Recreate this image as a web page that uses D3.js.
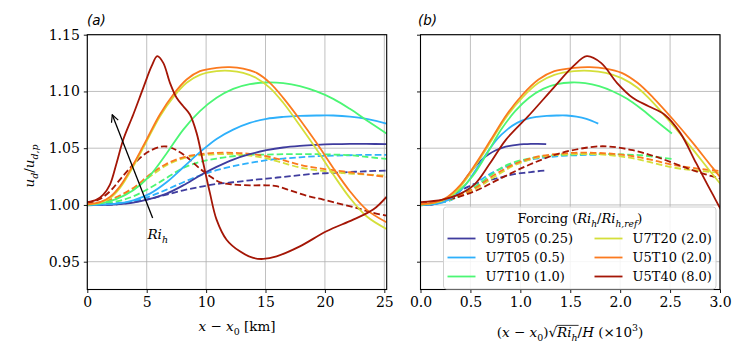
<!DOCTYPE html>
<html><head><meta charset="utf-8">
<script src="https://cdn.jsdelivr.net/npm/d3@7"></script>
<style>body{margin:0;background:#fff;}svg{display:block;}</style>
</head><body>
<svg id="chart" width="748" height="362"></svg>
<script>
// ---------------- DATA ----------------
const names = ["U9T05", "U7T05", "U7T10", "U7T20", "U5T10", "U5T40"];
const riRatio = [0.25, 0.5, 1.0, 2.0, 2.0, 8.0];
const legendLabels = ["U9T05 (0.25)", "U7T05 (0.5)", "U7T10 (1.0)", "U7T20 (2.0)", "U5T10 (2.0)", "U5T40 (8.0)"];
const colors = ["#3f3c9e", "#2eb0fb", "#4cf674", "#d4df3a", "#fb7a1f", "#a41606"];
const hScale = 0.1; // 1/H (x10^3) per km

// solid lines: [x - x0 (km), u_d/u_dp]
const U9T05_solid = [[0,1.000],[2.47,1.0006],[3.87,1.002],[5.27,1.0053],[6.67,1.010],[8.08,1.0173],[9.48,1.0259],[10.88,1.0335],[12.28,1.040],[13.68,1.0447],[15.09,1.0482],[16.49,1.0506],[17.89,1.052],[19.29,1.0529],[20.7,1.0535],[22.1,1.0538],[23.5,1.0538],[25.18,1.0535]];
const U7T05_solid = [[0,1.000],[2.47,1.0012],[3.87,1.0041],[5.27,1.010],[6.67,1.020],[8.08,1.0332],[9.48,1.0465],[10.88,1.0582],[12.28,1.0664],[13.68,1.0723],[15.09,1.0759],[16.49,1.0776],[17.89,1.0785],[19.29,1.0788],[20.7,1.0788],[22.1,1.0779],[23.5,1.0759],[25.18,1.0717]];
const U7T10_solid = [[0,1.000],[1.35,1.0018],[2.47,1.0053],[3.87,1.0129],[5.27,1.0259],[6.67,1.0453],[8.08,1.0664],[9.48,1.0826],[10.88,1.0944],[12.28,1.1023],[13.68,1.1064],[15.09,1.1079],[16.49,1.1073],[17.89,1.1047],[19.29,1.1000],[20.7,1.0935],[22.1,1.0847],[23.5,1.0747],[25.18,1.0629]];
const U7T20_solid = [[0,1.0003],[1.07,1.002],[1.91,1.006],[2.75,1.015],[3.87,1.034],[4.99,1.056],[6.11,1.078],[7.24,1.095],[8.36,1.1076],[9.48,1.1146],[10.88,1.1179],[12.0,1.1182],[13.12,1.1164],[14.25,1.1117],[15.37,1.1032],[16.49,1.090],[17.89,1.070],[19.29,1.049],[20.7,1.0268],[22.1,1.0062],[23.5,0.990],[25.18,0.9788]];
const U5T10_solid = [[0,1.0006],[1.07,1.0024],[1.91,1.0071],[2.75,1.0165],[3.87,1.0356],[4.99,1.0576],[6.11,1.0797],[7.24,1.0973],[8.36,1.1105],[9.48,1.1179],[10.88,1.1208],[12.0,1.1214],[13.12,1.1202],[14.25,1.1164],[15.37,1.1076],[16.49,1.0944],[17.89,1.0753],[19.29,1.0547],[20.7,1.0326],[22.1,1.0121],[23.5,0.9959],[25.18,0.9847]];
const U5T40_solid = [[0,1.0024],[0.785,1.0047],[1.346,1.0091],[1.907,1.0179],[2.468,1.0370],[3.029,1.0576],[3.87,1.0797],[4.711,1.1032],[5.412,1.1223],[5.889,1.1311],[6.394,1.1252],[6.955,1.1076],[7.516,1.0944],[8.076,1.0870],[8.637,1.0797],[9.198,1.0635],[9.759,1.0370],[10.32,1.0106],[10.88,0.9871],[11.72,0.9694],[12.84,0.9591],[13.97,0.9533],[14.81,0.9524],[15.93,0.9547],[17.89,0.9635],[20.13,0.9768],[22.38,0.9871],[24.06,0.9959],[25.18,1.0071]];

// dashed lines
const U9T05_dashed = [[0,0.9997],[2.47,1.0006],[3.87,1.0024],[5.27,1.0053],[6.67,1.0091],[8.08,1.0129],[9.48,1.0159],[10.88,1.0185],[12.28,1.020],[13.68,1.0217],[15.09,1.0232],[16.49,1.0247],[17.89,1.0262],[19.29,1.0276],[20.7,1.0282],[22.1,1.029],[23.5,1.0297],[25.18,1.0303]];
const U7T05_dashed = [[0,1.000],[3.87,1.0032],[5.27,1.0076],[6.67,1.0135],[8.08,1.020],[9.48,1.0259],[10.88,1.0306],[12.28,1.0341],[13.68,1.037],[15.09,1.0394],[16.49,1.0409],[17.89,1.042],[19.29,1.0429],[20.7,1.0435],[22.1,1.0438],[23.5,1.0441],[25.18,1.0441]];
const U7T10_dashed = [[0,1.000],[2.47,1.0032],[3.87,1.0076],[5.27,1.015],[6.67,1.0238],[8.08,1.0326],[9.48,1.0379],[10.88,1.0409],[12.28,1.0429],[13.68,1.0441],[15.09,1.0444],[16.49,1.0447],[17.89,1.0447],[19.29,1.0447],[20.7,1.0444],[22.1,1.0438],[23.5,1.0423],[25.18,1.0406]];
const U7T20_dashed = [[0,1.0003],[1.91,1.004],[3.87,1.014],[5.27,1.025],[6.67,1.035],[8.08,1.041],[9.48,1.0438],[10.88,1.0447],[12.28,1.0447],[13.68,1.0435],[15.09,1.041],[16.49,1.037],[17.89,1.033],[19.29,1.0306],[20.7,1.029],[22.1,1.0276],[23.5,1.0268],[25.18,1.0259]];
const U5T10_dashed = [[0,1.0003],[1.91,1.0047],[3.87,1.015],[5.27,1.0268],[6.67,1.0362],[8.08,1.042],[9.48,1.0447],[10.88,1.0459],[12.28,1.0459],[13.68,1.045],[15.09,1.0429],[16.49,1.0394],[17.89,1.0353],[19.29,1.0326],[20.7,1.0306],[22.1,1.0288],[23.5,1.0268],[25.18,1.0247]];
const U5T40_dashed = [[0,1.0012],[1.07,1.0053],[1.91,1.012],[2.75,1.0223],[3.87,1.0356],[4.99,1.0459],[6.11,1.0512],[6.67,1.0515],[7.52,1.0482],[8.36,1.0423],[9.48,1.032],[10.32,1.0253],[11.16,1.020],[12.28,1.018],[13.68,1.0173],[15.09,1.0173],[15.93,1.0165],[17.05,1.0129],[18.45,1.0082],[19.85,1.0047],[21.54,1.0003],[22.94,0.9965],[24.06,0.993],[25.18,0.9906]];

const solids = [U9T05_solid, U7T05_solid, U7T10_solid, U7T20_solid, U5T10_solid, U5T40_solid];
const dashes = [U9T05_dashed, U7T05_dashed, U7T10_dashed, U7T20_dashed, U5T10_dashed, U5T40_dashed];

const yTicks = [0.95, 1.00, 1.05, 1.10, 1.15];
const xTicksA = [0, 5, 10, 15, 20, 25];
const xTicksB = [0.0, 0.5, 1.0, 1.5, 2.0, 2.5, 3.0];

// ---------------- LAYOUT ----------------
const svg = d3.select("#chart");
const SERIF = "'DejaVu Serif', serif";
const FS = 14;
const plotTop = 34.7, plotBottom = 289.5;
const y = d3.scaleLinear().domain([0.9255, 1.15]).range([plotBottom, plotTop]);
const xA = d3.scaleLinear().domain([0, 25.2]).range([87.3, 386.7]);
const xB = d3.scaleLinear().domain([0, 3.0]).range([420.5, 720]);

function rich(text, parts, fs) {
  let cur = 0;
  parts.forEach(p => {
    const ts = text.append("tspan").text(p.t);
    if (p.i) ts.attr("font-style", "italic");
    const shift = p.sub ? fs * 0.3 : (p.sup ? -fs * 0.42 : 0);
    const dy = shift - cur; cur = shift;
    if (dy) ts.attr("dy", dy);
    if (p.sub || p.sup) ts.attr("font-size", fs * 0.7);
  });
}

function panel(id, x, xTicks, fmt, showYLabels, xform) {
  const g = svg.append("g");
  const [x0, x1] = x.range();
  g.append("g").selectAll("line").data(xTicks).join("line")
    .attr("x1", d => x(d)).attr("x2", d => x(d)).attr("y1", plotTop).attr("y2", plotBottom)
    .attr("stroke", "#b0b0b0").attr("stroke-width", 0.8);
  g.append("g").selectAll("line").data(yTicks).join("line")
    .attr("x1", x0).attr("x2", x1).attr("y1", d => y(d)).attr("y2", d => y(d))
    .attr("stroke", "#b0b0b0").attr("stroke-width", 0.8);
  svg.append("clipPath").attr("id", "clip" + id).append("rect")
    .attr("x", x0).attr("y", plotTop).attr("width", x1 - x0).attr("height", plotBottom - plotTop);
  const lines = g.append("g").attr("clip-path", `url(#clip${id})`);
  const line = d3.line().x(d => x(d[0])).y(d => y(d[1])).curve(d3.curveCatmullRom.alpha(0.5));
  const drawSet = (set, dashed) => set.forEach((s, i) => {
    const pts = s.map(d => [xform(d[0], i), d[1]]);
    lines.append("path").attr("d", line(pts)).attr("fill", "none")
      .attr("stroke", colors[i]).attr("stroke-width", 1.8)
      .attr("stroke-dasharray", dashed ? "6.5,3" : null);
  });
  drawSet(dashes, true);
  drawSet(solids, false);
  const ax = g.append("g").attr("transform", `translate(0,${plotBottom})`)
    .call(d3.axisBottom(x).tickValues(xTicks).tickFormat(fmt).tickSize(3.5).tickPadding(4));
  const ay = g.append("g").attr("transform", `translate(${x0},0)`)
    .call(d3.axisLeft(y).tickValues(yTicks).tickFormat(showYLabels ? d3.format(".2f") : "").tickSize(3.5).tickPadding(4));
  [ax, ay].forEach(a => {
    a.select(".domain").remove();
    a.selectAll("text").attr("font-family", SERIF).attr("font-size", FS).attr("fill", "#000");
    a.selectAll("line").attr("stroke", "#000").attr("stroke-width", 0.9);
  });
  g.append("rect").attr("x", x0).attr("y", plotTop).attr("width", x1 - x0).attr("height", plotBottom - plotTop)
    .attr("fill", "none").attr("stroke", "#000").attr("stroke-width", 1.1);
  return g;
}

panel("a", xA, xTicksA, d3.format("d"), true, (v) => v);
panel("b", xB, xTicksB, d3.format(".1f"), false, (v, i) => v * hScale * Math.sqrt(riRatio[i]));

// panel labels
svg.append("text").attr("x", 87).attr("y", 25).attr("font-family", "'DejaVu Sans', sans-serif")
  .attr("font-style", "italic").attr("font-size", 13.5).text("(a)");
svg.append("text").attr("x", 418).attr("y", 25).attr("font-family", "'DejaVu Sans', sans-serif")
  .attr("font-style", "italic").attr("font-size", 13.5).text("(b)");

// x label a
const tA = svg.append("text").attr("x", 237).attr("y", 331).attr("text-anchor", "middle")
  .attr("font-family", SERIF).attr("font-size", 13.5);
rich(tA, [{t: "x", i: true}, {t: " − "}, {t: "x", i: true}, {t: "0", sub: true}, {t: " [km]"}], 13.5);

// y label
const tY = svg.append("text").attr("transform", "translate(34,166) rotate(-90)").attr("text-anchor", "middle")
  .attr("font-family", SERIF).attr("font-size", 13.5);
rich(tY, [{t: "u", i: true}, {t: "d", i: true, sub: true}, {t: "/"}, {t: "u", i: true}, {t: "d,p", i: true, sub: true}], 13.5);

// x label b
const fsB = 13.5;
const tB = svg.append("text").attr("x", 570).attr("y", 337).attr("text-anchor", "middle")
  .attr("font-family", SERIF).attr("font-size", fsB);
rich(tB, [{t: "("}, {t: "x", i: true}, {t: " − "}, {t: "x", i: true}, {t: "0", sub: true}, {t: ")"}, {t: "√"},
          {t: "Ri", i: true}, {t: "h", i: true, sub: true}, {t: "/"}, {t: "H", i: true}, {t: " (×10"}, {t: "3", sup: true}, {t: ")"}], fsB);
{
  const node = tB.node();
  const full = node.textContent;
  const iSq = full.indexOf("√");
  const iEnd = iSq + 3;
  const s = node.getEndPositionOfChar(iSq).x;
  const e = node.getEndPositionOfChar(iEnd).x;
  svg.append("line").attr("x1", s - 0.5).attr("x2", e + 1).attr("y1", 337 - fsB * 0.86).attr("y2", 337 - fsB * 0.86)
    .attr("stroke", "#000").attr("stroke-width", 0.8);
}

// arrow
svg.append("defs").append("marker").attr("id", "ah").attr("viewBox", "0 0 10 10").attr("refX", 9).attr("refY", 5)
  .attr("markerWidth", 9).attr("markerHeight", 9).attr("orient", "auto").attr("markerUnits", "userSpaceOnUse")
  .append("path").attr("d", "M1,1 L9,5 L1,9").attr("fill", "none").attr("stroke", "#000").attr("stroke-width", 1.3);
svg.append("line").attr("x1", xA(5.5)).attr("y1", y(0.9885)).attr("x2", xA(2.1)).attr("y2", y(1.0795))
  .attr("stroke", "#000").attr("stroke-width", 1.3).attr("marker-end", "url(#ah)");
const tR = svg.append("text").attr("x", xA(5.06)).attr("y", 239).attr("font-family", SERIF).attr("font-size", 13.5);
rich(tR, [{t: "Ri", i: true}, {t: "h", i: true, sub: true}], 13.5);

// legend
const lg = svg.append("g");
lg.append("rect").attr("x", 443.5).attr("y", 207).attr("width", 272.5).attr("height", 82).attr("rx", 3)
  .attr("fill", "#fff").attr("fill-opacity", 0.85).attr("stroke", "#d0d0d0").attr("stroke-width", 1);
const tL = lg.append("text").attr("x", 580).attr("y", 223).attr("text-anchor", "middle")
  .attr("font-family", SERIF).attr("font-size", 13);
rich(tL, [{t: "Forcing ("}, {t: "Ri", i: true}, {t: "h", i: true, sub: true}, {t: "/"}, {t: "Ri", i: true}, {t: "h,ref", i: true, sub: true}, {t: ")"}], 13);
legendLabels.forEach((lab, i) => {
  const col = Math.floor(i / 3), row = i % 3;
  const lx = col === 0 ? 447.5 : 594.5;
  const ly = 238.5 + row * 19;
  lg.append("line").attr("x1", lx).attr("x2", lx + 28).attr("y1", ly).attr("y2", ly)
    .attr("stroke", colors[i]).attr("stroke-width", 1.8);
  lg.append("text").attr("x", lx + 38).attr("y", ly + 4.5).attr("font-family", SERIF).attr("font-size", 13).text(lab);
});
</script>
</body></html>
